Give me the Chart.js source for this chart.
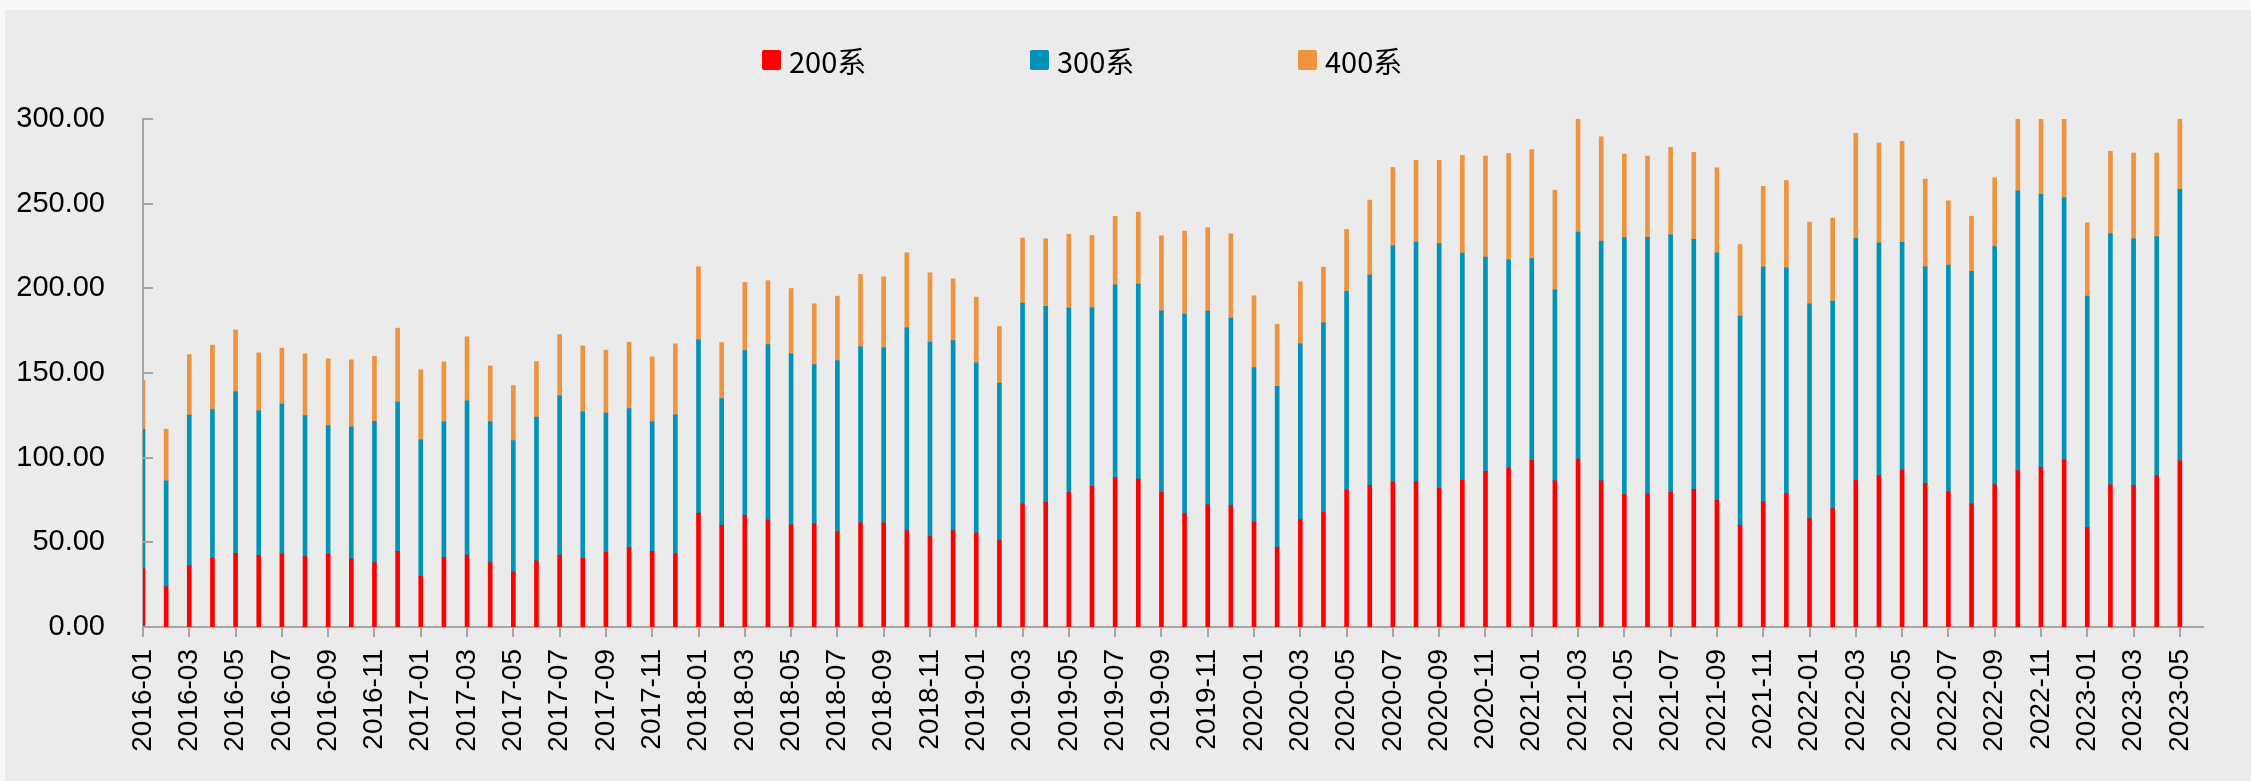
<!DOCTYPE html>
<html>
<head>
<meta charset="utf-8">
<script src="https://cdn.jsdelivr.net/npm/chart.js@4.4.0/dist/chart.umd.min.js"></script>
<style>
  html, body { margin: 0; padding: 0; background: #f7f7f7; width: 2251px; height: 781px; overflow: hidden; }
  #panel { position: absolute; left: 5px; top: 10px; width: 2246px; height: 771px; background: #ebebeb; }
  #legend { position: absolute; left: 762px; top: 45px; display: flex; font-family: "Noto Sans CJK SC", "Noto Sans", sans-serif; font-size: 29px; color: #000; }
  .item { width: 268px; display: flex; align-items: center; height: 30px; }
  .box { width: 19px; height: 20px; border-radius: 2px; margin-right: 8px; }
</style>
</head>
<body>
<div id="panel"><canvas id="myChart"></canvas></div>
<div id="legend"></div>
<script>
// months on the x axis
var months = [
    '2016-01','2016-02','2016-03','2016-04','2016-05','2016-06','2016-07','2016-08','2016-09','2016-10','2016-11','2016-12',
    '2017-01','2017-02','2017-03','2017-04','2017-05','2017-06','2017-07','2017-08','2017-09','2017-10','2017-11','2017-12',
    '2018-01','2018-02','2018-03','2018-04','2018-05','2018-06','2018-07','2018-08','2018-09','2018-10','2018-11','2018-12',
    '2019-01','2019-02','2019-03','2019-04','2019-05','2019-06','2019-07','2019-08','2019-09','2019-10','2019-11','2019-12',
    '2020-01','2020-02','2020-03','2020-04','2020-05','2020-06','2020-07','2020-08','2020-09','2020-10','2020-11','2020-12',
    '2021-01','2021-02','2021-03','2021-04','2021-05','2021-06','2021-07','2021-08','2021-09','2021-10','2021-11','2021-12',
    '2022-01','2022-02','2022-03','2022-04','2022-05','2022-06','2022-07','2022-08','2022-09','2022-10','2022-11','2022-12',
    '2023-01','2023-02','2023-03','2023-04','2023-05'
];

var s200 = [
    34.5,23.8,36.2,40.6,43.5,42.3,43.1,41.6,42.9,40.2,38.0,44.7,
    29.9,41.0,42.3,38.0,32.5,39.0,42.3,40.6,44.1,46.9,44.7,43.3,
    67.2,60.1,66.0,63.2,60.3,61.1,56.3,61.5,61.5,56.9,53.4,56.9,
    55.5,51.0,72.7,73.7,79.4,83.1,88.2,87.3,79.6,67.0,72.1,71.7,
    61.8,47.1,63.4,67.8,80.8,83.7,85.9,85.9,81.9,86.7,92.0,93.8,
    98.5,86.3,99.1,86.3,78.2,78.6,79.6,81.3,74.8,60.1,73.9,78.8,
    64.0,69.9,86.5,89.4,92.6,84.7,80.0,72.7,83.9,92.4,94.3,98.7,
    58.7,83.9,83.5,89.2,98.1
];

var s300 = [
    82.3,62.5,88.9,87.8,95.6,85.3,88.5,83.3,76.1,78.0,83.5,88.1,
    80.6,80.1,91.2,83.1,77.6,84.9,94.2,86.4,82.2,82.1,76.6,82.0,
    102.4,74.8,97.3,103.6,101.0,93.9,101.1,104.0,103.4,119.8,114.8,112.3,
    100.5,93.0,118.6,115.6,108.9,105.4,113.9,115.2,107.1,117.8,114.4,110.7,
    91.4,95.1,103.8,111.8,117.5,124.1,139.2,141.4,144.6,134.1,126.4,123.1,
    119.0,112.8,134.1,141.6,151.7,151.5,152.0,147.6,146.2,123.5,138.6,133.3,
    126.9,122.5,143.0,137.5,134.5,128.0,133.7,137.3,140.8,165.2,161.2,154.8,
    136.7,148.5,145.8,141.4,160.3
];

var s400 = [
    29.0,30.5,35.8,38.0,36.4,34.3,33.1,36.4,39.4,39.6,38.4,43.7,
    41.4,35.5,37.9,33.1,32.5,32.9,36.2,39.0,37.2,39.2,38.2,41.9,
    43.1,33.1,40.2,37.7,38.6,35.9,38.0,42.7,41.9,44.3,41.0,36.4,
    38.8,33.5,38.4,40.0,43.7,42.7,40.4,42.5,44.3,49.0,49.3,49.8,
    42.4,36.6,36.7,32.9,36.5,44.3,46.3,48.3,49.1,57.7,59.7,62.8,
    64.4,58.9,66.8,61.6,49.4,48.0,51.6,51.4,50.2,42.3,47.7,51.6,
    48.2,49.1,62.0,58.9,59.7,51.8,38.0,32.5,40.6,42.4,44.5,46.5,
    43.3,48.5,50.6,49.3,41.6
];

var yTicks = [0, 50, 100, 150, 200, 250, 300];

// small ticks pointing into the plot on the y axis
var innerTicks = {
    id: 'innerTicks',
    afterDraw: function(chart) {
        var y = chart.scales.y, ctx = chart.ctx;
        ctx.save();
        ctx.strokeStyle = '#a6a6a6';
        ctx.lineWidth = 2;
        y.ticks.forEach(function(t) {
            var py = Math.round(y.getPixelForValue(t.value));
            ctx.beginPath();
            ctx.moveTo(y.right, py);
            ctx.lineTo(y.right + 10, py);
            ctx.stroke();
        });
        ctx.restore();
    }
};

var ctx = document.getElementById('myChart').getContext('2d');
var myChart = new Chart(ctx, {
    type: 'bar',
    data: {
        // one empty slot at the end, the axis runs a step past the last month
        labels: months.concat(['']),
        datasets: [{
            label: '200系',
            data: s200,
            backgroundColor: '#ff0000'
        }, {
            label: '300系',
            data: s300,
            backgroundColor: '#0092b9'
        }, {
            label: '400系',
            data: s400,
            backgroundColor: '#ee943e'
        }]
    },
    options: {
        responsive: true,
        maintainAspectRatio: false,
        animation: false,
        layout: { padding: { top: 109, right: 48, left: 0, bottom: 0 } },
        datasets: { bar: { barThickness: 4 } },
        plugins: {
            legend: { display: false },
            tooltip: { enabled: false }
        },
        scales: {
            x: {
                stacked: true,
                offset: false,
                afterFit: function(s) { s.height = 154; },
                border: { color: '#a6a6a6', width: 2 },
                grid: { display: true, drawOnChartArea: false, drawTicks: true, tickLength: 10, color: '#a6a6a6', lineWidth: 2, offset: false },
                ticks: {
                    autoSkip: false,
                    minRotation: 90,
                    maxRotation: 90,
                    padding: 12,
                    color: '#000',
                    font: { family: 'Liberation Sans', size: 28 },
                    callback: function(v, i) {
                        if (i % 2 !== 0 || i >= months.length) return null;
                        return months[i];
                    }
                }
            },
            y: {
                stacked: true,
                min: 0,
                max: 300,
                afterFit: function(s) { s.width = 138; },
                afterBuildTicks: function(s) { s.ticks = yTicks.map(function(v) { return { value: v }; }); },
                border: { color: '#a6a6a6', width: 2 },
                grid: { display: false, drawTicks: false },
                ticks: {
                    padding: 38,
                    color: '#000',
                    font: { family: 'Liberation Sans', size: 29 },
                    callback: function(v) { return Number(v).toFixed(2); }
                }
            }
        }
    },
    plugins: [innerTicks]
});

// legend drawn as html from the chart's datasets
var legend = document.getElementById('legend');
myChart.data.datasets.forEach(function(ds) {
    var item = document.createElement('div');
    item.className = 'item';
    var box = document.createElement('span');
    box.className = 'box';
    box.style.background = ds.backgroundColor;
    var txt = document.createElement('span');
    txt.textContent = ds.label;
    item.appendChild(box);
    item.appendChild(txt);
    legend.appendChild(item);
});
</script>
</body>
</html>
